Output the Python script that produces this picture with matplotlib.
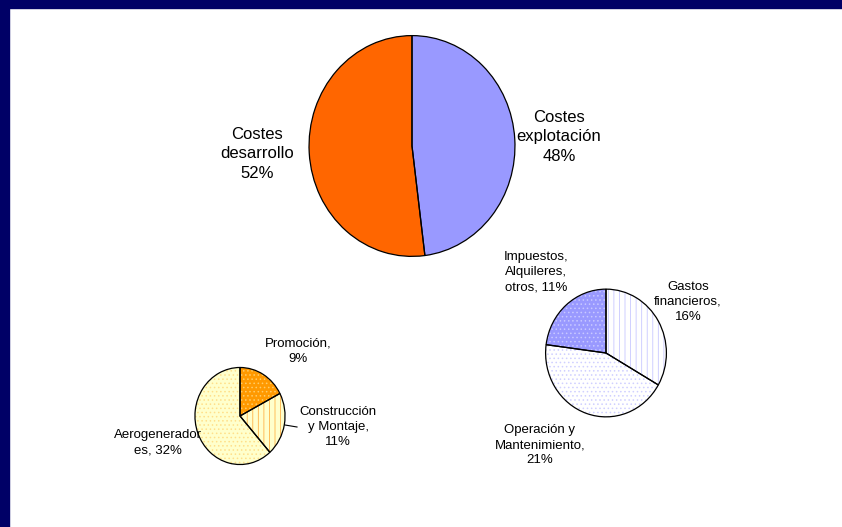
import matplotlib
matplotlib.use("Agg")
import matplotlib.pyplot as plt
from matplotlib.patches import Rectangle
from matplotlib.lines import Line2D

plt.rcParams['font.family'] = ['Liberation Sans', 'DejaVu Sans']
plt.rcParams['hatch.linewidth'] = 0.6

W, H = 842, 527

# main split of costs
main_labels = ['Costes\nexplotación\n48%', 'Costes\ndesarrollo\n52%']
main_values = [48, 52]
main_colors = ['#9999FF', '#FF6600']

# development costs breakdown
dev_labels = ['Promoción,\n9%', 'Construcción\ny Montaje,\n11%', 'Aerogenerador\nes, 32%']
dev_values = [9, 11, 32]
dev_colors = ['#FF9900', '#FFFFCC', '#FFFFCC']
dev_hatch = ['....', '|||', '....']
dev_hcolors = ['#FFCC66', '#FFB347', '#FFE08A']

# operating costs breakdown
op_labels = ['Gastos\nfinancieros,\n16%', 'Operación y\nMantenimiento,\n21%', 'Impuestos,\nAlquileres,\notros, 11%']
op_values = [16, 21, 11]
op_colors = ['white', 'white', '#9999FF']
op_hatch = ['|||', '....', '....']
op_hcolors = ['#C8C8FF', '#D0D0FF', '#C8C8FF']


def px_axes(fig, cx, cy, w, h):
    return fig.add_axes([(cx - w / 2) / W, 1 - (cy + h / 2) / H, w / W, h / H])


def draw_pie(ax, values, colors, hatches=None, hcolors=None):
    wedges, _ = ax.pie(values, colors=colors, startangle=90, counterclock=False,
                       radius=1, wedgeprops=dict(linewidth=0))
    if hatches:
        for w, h, hc in zip(wedges, hatches, hcolors):
            w.set_hatch(h)
            w.set_edgecolor(hc)
    ax.pie(values, colors=['none'] * len(values), startangle=90, counterclock=False,
           radius=1, wedgeprops=dict(linewidth=0.9, edgecolor='black', facecolor='none'))
    ax.set_aspect('auto')
    ax.set_xlim(-1.01, 1.01)
    ax.set_ylim(-1.01, 1.01)
    ax.axis('off')


def label(fig, x, y, s, size):
    fig.text(x / W, 1 - y / H, s, ha='center', va='center', fontsize=size,
             linespacing=1.35, color='black')


fig = plt.figure(figsize=(W / 100, H / 100), dpi=100)
fig.patch.set_facecolor('white')

ax_main = px_axes(fig, 412, 146, 208, 223)
draw_pie(ax_main, main_values, main_colors)

ax_dev = px_axes(fig, 240, 416, 91, 98)
draw_pie(ax_dev, dev_values, dev_colors, dev_hatch, dev_hcolors)

ax_op = px_axes(fig, 606, 353, 122, 129)
draw_pie(ax_op, op_values, op_colors, op_hatch, op_hcolors)

label(fig, 559, 137, main_labels[0], 12)
label(fig, 257, 154, main_labels[1], 12)

label(fig, 298, 351, dev_labels[0], 9.5)
label(fig, 338, 427, dev_labels[1], 9.5)
label(fig, 158, 443, dev_labels[2], 9.5)

label(fig, 688, 302, op_labels[0], 9.5)
label(fig, 540, 445, op_labels[1], 9.5)
label(fig, 536, 272, op_labels[2], 9.5)

# leader line for the construction slice
fig.add_artist(Line2D([285 / W, 297 / W], [1 - 425 / H, 1 - 427 / H],
                      color='black', linewidth=0.8))

# navy frame on top and left
fig.add_artist(Rectangle((0, 1 - 8 / H), 1, 8 / H, transform=fig.transFigure,
                         color='#000066', zorder=10))
fig.add_artist(Rectangle((0, 0), 9 / W, 1, transform=fig.transFigure,
                         color='#000066', zorder=10))

fig.savefig('out.png', dpi=100)
